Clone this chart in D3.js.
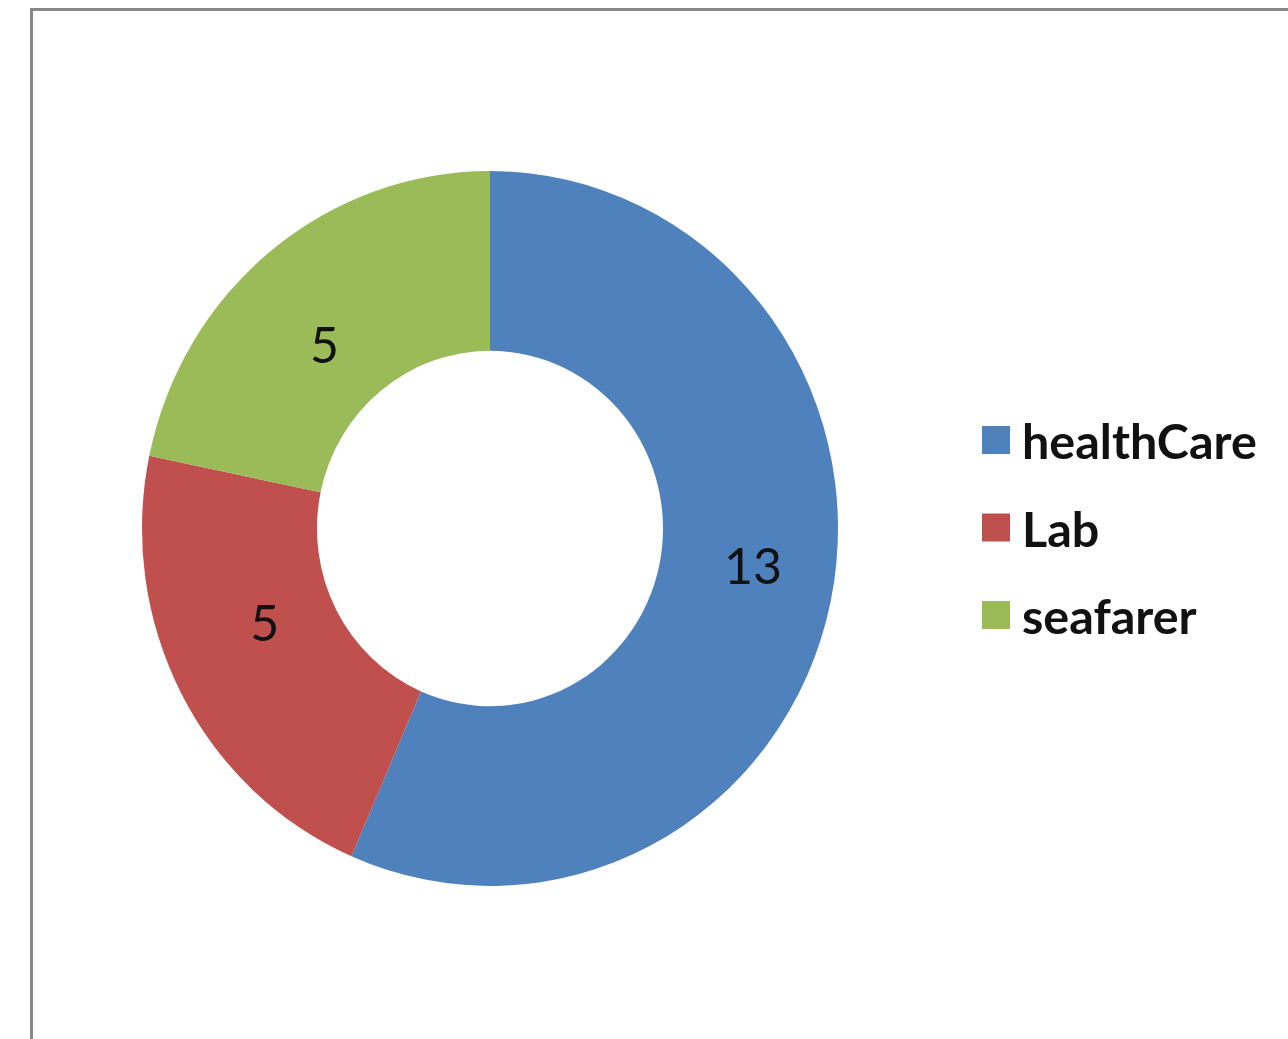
<!DOCTYPE html>
<html><head><meta charset="utf-8">
<script src="https://cdn.jsdelivr.net/npm/d3@7"></script>
<style>html,body{margin:0;padding:0;background:#fff;}</style>
</head><body>
<svg id="chart" width="1288" height="1039"></svg>
<script>
const categories = ["healthCare", "Lab", "seafarer"];
const values = [13, 5, 5];
const colors = ["#4F81BD", "#C0504D", "#9BBB59"];

const svg = d3.select("#chart");
// frame
svg.append("rect").attr("x", 31.5).attr("y", 9.5).attr("width", 1300).attr("height", 1100)
  .attr("fill", "#fff").attr("stroke", "#888").attr("stroke-width", 3);

const cx = 490, cy = 528.5, rOuter = 348, rInner = 173, sy = 1.027;
const pie = d3.pie().sort(null).value(d => d)(values);
const arc = d3.arc().innerRadius(rInner).outerRadius(rOuter);
const g = svg.append("g").attr("transform", `translate(${cx},${cy}) scale(1,${sy})`);
g.selectAll("path").data(pie).join("path")
  .attr("d", arc).attr("fill", (d, i) => colors[i]);

// small label nudges (layout only)
const labelNudge = [[8, -18], [6, -30], [-1, 23]];
svg.selectAll("text.lbl").data(pie).join("text").attr("class", "lbl")
  .attr("x", (d, i) => cx + arc.centroid(d)[0] + labelNudge[i][0])
  .attr("y", (d, i) => cy + arc.centroid(d)[1] * sy + labelNudge[i][1])
  .attr("text-anchor", "middle").attr("dominant-baseline", "central")
  .attr("font-family", "Lato, 'Open Sans', sans-serif").attr("font-size", 50)
  .attr("fill", "#111").text(d => d.data);

const leg = svg.append("g");
const ly = d3.scalePoint().domain(categories).range([440, 615]);
categories.forEach((c, i) => {
  leg.append("rect").attr("x", 982).attr("y", ly(c) - 14).attr("width", 28).attr("height", 28).attr("fill", colors[i]);
  leg.append("text").attr("x", 1022).attr("y", ly(c)).attr("dominant-baseline", "central")
    .attr("font-family", "Lato, 'Open Sans', sans-serif").attr("font-weight", "bold").attr("font-size", 48.5)
    .attr("fill", "#111").text(c);
});
</script>
</body></html>
